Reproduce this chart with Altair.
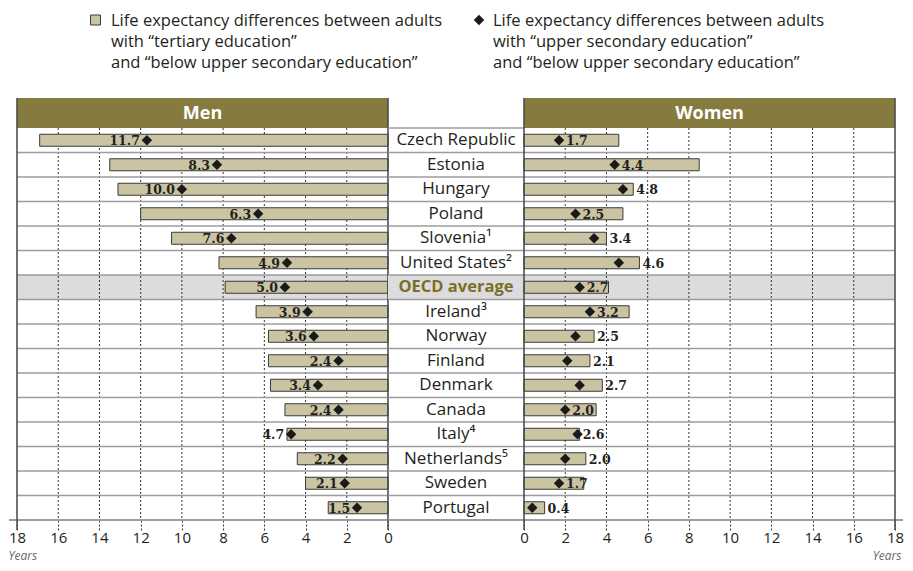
import altair as alt
import pandas as pd

# ---------------- data ----------------
countries = ["Czech Republic", "Estonia", "Hungary", "Poland", "Slovenia¹",
             "United States²", "OECD average", "Ireland³", "Norway", "Finland",
             "Denmark", "Canada", "Italy⁴", "Netherlands⁵", "Sweden", "Portugal"]
# tertiary vs below upper secondary (bars)
men_tertiary = [16.9, 13.5, 13.1, 12.0, 10.5, 8.2, 7.9, 6.4, 5.8, 5.8, 5.7, 5.0, 4.9, 4.4, 4.0, 2.9]
women_tertiary = [4.6, 8.5, 5.3, 4.8, 4.0, 5.6, 4.1, 5.1, 3.4, 3.2, 3.8, 3.5, 2.7, 3.0, 2.9, 1.0]
# upper secondary vs below upper secondary (diamonds, labelled)
men_upper = [11.7, 8.3, 10.0, 6.3, 7.6, 4.9, 5.0, 3.9, 3.6, 2.4, 3.4, 2.4, 4.7, 2.2, 2.1, 1.5]
women_upper = [1.7, 4.4, 4.8, 2.5, 3.4, 4.6, 2.7, 3.2, 2.5, 2.1, 2.7, 2.0, 2.6, 2.0, 1.7, 0.4]

tick_values = [0, 2, 4, 6, 8, 10, 12, 14, 16, 18]
grid_values = [2, 4, 6, 8, 10, 12, 14, 16]
panel_titles = ["Men", "Women"]
legend_bar_text = ["Life expectancy differences between adults",
                   "with “tertiary education”",
                   "and “below upper secondary education”"]
legend_diamond_text = ["Life expectancy differences between adults",
                       "with “upper secondary education”",
                       "and “below upper secondary education”"]
highlight = "OECD average"

# ---------------- styles ----------------
FONT = "Open Sans"
SERIF = "DejaVu Serif"
BAR_FILL = "#cbc4a3"
BAR_STROKE = "#3a3a3a"
HEADER = "#867b3e"
BAND = "#dcdcde"
ROWLINE = "#9d9d9d"
INK = "#231f20"
OLIVE = "#7a6f24"
NUM = "#231f20"

W = 371     # side panel width
MW = 136    # middle label column width
H = 392     # plot height

df = pd.DataFrame({
    "country": countries,
    "men_t": men_tertiary, "men_u": men_upper,
    "women_t": women_tertiary, "women_u": women_upper,
})
# women labels sit inside the bar when there is room, otherwise after the bar end
df["w_inside"] = (df["women_u"] + 1.3) <= (df["women_t"] + 0.1)

ysc = alt.Scale(domain=countries, paddingInner=0, paddingOuter=0)


def Y(**kw):
    return alt.Y("country:N", scale=ysc, axis=None, **kw)


one = pd.DataFrame({"a": [0]})


def side_panel(side):
    men = side == "men"
    tcol, ucol = ("men_t", "men_u") if men else ("women_t", "women_u")
    title = panel_titles[0] if men else panel_titles[1]
    xsc = alt.Scale(domain=[0, 18], reverse=men, nice=False)
    axis = alt.Axis(values=tick_values, format="d", tickSize=10, tickDash=[2, 2],
                    tickColor="#333333", tickWidth=1, domain=False, grid=False,
                    labelFont=FONT, labelFontSize=15, labelColor=INK, labelPadding=0,
                    labelFlush=False, labelOverlap=False,
                    title="Years", titleFont=FONT, titleFontStyle="italic",
                    titleFontWeight="normal", titleFontSize=12, titleColor="#6a6a6a",
                    titleX=-9 if men else W + 6, titleY=30,
                    titleAlign="left" if men else "right", titleBaseline="top")

    def X(f):
        return alt.X(f, scale=xsc, axis=axis)

    base = alt.Chart(df)
    hdr = alt.Chart(pd.DataFrame({"label": [title]}))
    layers = [
        hdr.mark_rect(color=HEADER).encode(
            x=alt.value(0), x2=alt.value(W), y=alt.value(-30), y2=alt.value(0)),
        hdr.mark_text(font=FONT, fontSize=18, fontWeight="bold", color="white",
                      baseline="middle").encode(
            text="label:N", x=alt.value(W / 2), y=alt.value(-14)),
        base.transform_filter(alt.datum.country == highlight).mark_rect(color=BAND).encode(
            y=Y(), x=alt.value(0), x2=alt.value(W)),
        alt.Chart(pd.DataFrame({"v": grid_values})).mark_rule(
            strokeDash=[2, 2], color="#333333", strokeWidth=1).encode(
            x=X("v:Q"), y=alt.value(0), y2=alt.value(H)),
        base.transform_filter(alt.datum.country != countries[-1]).mark_rule(
            color=ROWLINE, strokeWidth=1.5).encode(
            y=Y(bandPosition=1), x=alt.value(0), x2=alt.value(W)),
        alt.Chart(one).mark_rule(color=ROWLINE, strokeWidth=2).encode(
            y=alt.value(H), x=alt.value(-8 if men else 0), x2=alt.value(W if men else W + 8)),
        base.mark_bar(height=12, fill=BAR_FILL, stroke=BAR_STROKE, strokeWidth=1).encode(
            x=X(tcol + ":Q"), y=Y()),
        alt.Chart(pd.DataFrame({"v": [0, 18]})).mark_rule(color="#444444", strokeWidth=1.5).encode(
            x=X("v:Q"), y=alt.value(-30), y2=alt.value(H + 10)),
        base.mark_point(shape="diamond", filled=True, size=110, color="#1a1a1a", opacity=1).encode(
            x=X(ucol + ":Q"), y=Y()),
    ]
    num_style = dict(font=SERIF, fontSize=12.5, fontWeight="bold", baseline="middle",
                     dy=1, color=NUM)
    legend_text_style = dict(font=FONT, fontSize=16.5, color=INK, align="left",
                             baseline="top", lineHeight=21)
    if men:
        layers.append(base.mark_text(align="right", dx=-7, **num_style).encode(
            x=X("men_u:Q"), y=Y(), text=alt.Text("men_u:Q", format=".1f")))
        layers.append(alt.Chart(one).mark_square(size=100, fill=BAR_FILL, stroke=BAR_STROKE,
                                                 strokeWidth=1, opacity=1).encode(
            x=alt.value(78.5), y=alt.value(-108)))
        layers.append(alt.Chart(one).mark_text(**legend_text_style).encode(
            x=alt.value(94), y=alt.value(-115), text=alt.value(legend_bar_text)))
    else:
        layers.append(base.transform_filter("datum.w_inside").mark_text(
            align="left", dx=7, **num_style).encode(
            x=X("women_u:Q"), y=Y(), text=alt.Text("women_u:Q", format=".1f")))
        layers.append(base.transform_filter("!datum.w_inside").mark_text(
            align="left", dx=3, **num_style).encode(
            x=X("women_t:Q"), y=Y(), text=alt.Text("women_u:Q", format=".1f")))
        layers.append(alt.Chart(one).mark_point(shape="diamond", filled=True, size=110,
                                                color="#1a1a1a", opacity=1).encode(
            x=alt.value(-45), y=alt.value(-108)))
        layers.append(alt.Chart(one).mark_text(**legend_text_style).encode(
            x=alt.value(-31), y=alt.value(-115), text=alt.value(legend_diamond_text)))
    return alt.layer(*layers).properties(width=W, height=H)


def middle_panel():
    base = alt.Chart(df)
    layers = [
        base.transform_filter(alt.datum.country == highlight).mark_rect(color=BAND).encode(
            y=Y(), x=alt.value(0), x2=alt.value(MW)),
        base.transform_filter(alt.datum.country != countries[-1]).mark_rule(
            color=ROWLINE, strokeWidth=1.5).encode(
            y=Y(bandPosition=1), x=alt.value(0), x2=alt.value(MW)),
        alt.Chart(one).mark_rule(color=ROWLINE, strokeWidth=1.5).encode(
            y=alt.value(0), x=alt.value(0), x2=alt.value(MW)),
        alt.Chart(one).mark_rule(color=ROWLINE, strokeWidth=2).encode(
            y=alt.value(H), x=alt.value(0), x2=alt.value(MW)),
        base.transform_filter(alt.datum.country != highlight).mark_text(
            font=FONT, fontSize=17, color=INK, baseline="middle").encode(
            text="country:N", y=Y(), x=alt.value(MW / 2)),
        base.transform_filter(alt.datum.country == highlight).mark_text(
            font=FONT, fontSize=16.5, fontWeight="bold", color=OLIVE, baseline="middle").encode(
            text="country:N", y=Y(), x=alt.value(MW / 2)),
    ]
    return alt.layer(*layers).properties(width=MW, height=H)


chart = alt.hconcat(side_panel("men"), middle_panel(), side_panel("women"),
                    spacing=0, bounds="flush").properties(
    padding={"left": 0, "top": 5, "right": 0, "bottom": 1}
).configure_view(stroke=None)

chart.save("out.html", embed_options={"renderer": "svg", "actions": False})
